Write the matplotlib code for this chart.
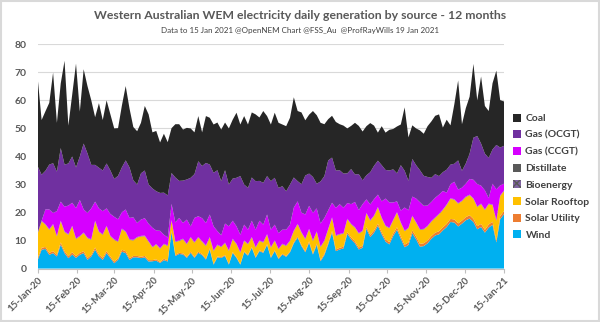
import matplotlib
matplotlib.use("Agg")
import matplotlib.pyplot as plt
import matplotlib.dates as mdates
from matplotlib.patches import Patch, Rectangle
import pandas as pd
import numpy as np

# ---- data (GWh per day, sampled every 3 days from 15-Jan-2020) ----
start_date = "2020-01-15"
n_points = 123

wind = [3.1, 6.7, 7.0, 4.9, 5.5, 4.3, 8.5, 5.5, 3.7, 5.0, 3.8, 4.9, 5.5, 3.1, 4.3, 6.7, 4.3, 3.1, 5.5, 3.7,
        1.9, 3.1, 6.0, 5.5, 3.1, 4.0, 4.0, 3.7, 4.0, 2.5, 2.6, 2.8, 2.0, 3.0, 2.5, 13.0, 4.5, 5.2, 5.0, 3.8,
        5.6, 3.8, 5.6, 4.8, 3.2, 6.8, 1.4, 4.0, 3.8, 4.5, 1.4, 5.6, 3.8, 1.4, 5.8, 4.6, 7.4, 3.8, 6.2, 5.6,
        8.4, 3.8, 6.2, 3.4, 5.0, 4.2, 5.8, 9.0, 11.0, 8.0, 5.8, 9.2, 5.0, 8.4, 2.6, 4.8, 8.6, 12.8, 6.2, 6.8,
        7.2, 12.4, 10.4, 9.0, 6.8, 7.4, 14.2, 11.2, 12.8, 15.2, 12.2, 9.6, 8.6, 11.6, 13.8, 10.6, 7.6, 8.4, 12.6, 10.4,
        7.8, 8.0, 9.0, 10.6, 11.8, 12.2, 13.6, 14.8, 16.6, 16.4, 15.0, 16.0, 17.2, 17.8, 16.6, 14.0, 14.8, 12.8, 14.6, 15.6,
        9.3, 17.6, 19.4]
solar_utility = [0.7, 0.7, 0.7, 0.7, 0.7, 0.6, 0.8, 0.7, 0.7, 0.8, 0.6, 0.7, 0.7, 0.7, 0.6, 0.8, 0.7, 0.7, 0.7, 0.6,
                 0.6, 0.5, 0.7, 0.7, 0.6, 0.5, 0.5, 0.5, 0.5, 0.5, 0.4, 0.5, 0.4, 0.5, 0.4, 0.6, 0.4, 0.4, 0.4, 0.4,
                 0.4, 0.4, 0.4, 0.4, 0.3, 0.4, 0.3, 0.3, 0.3, 0.3, 0.3, 0.3, 0.3, 0.2, 0.3, 0.3, 0.3, 0.3, 0.3, 0.3,
                 0.3, 0.3, 0.3, 0.3, 0.3, 0.3, 0.3, 0.4, 0.4, 0.4, 0.4, 0.5, 0.4, 0.5, 0.4, 0.5, 0.6, 0.6, 0.6, 0.6,
                 0.6, 0.6, 0.7, 0.7, 0.7, 0.7, 0.7, 0.8, 0.8, 0.8, 0.8, 0.8, 0.8, 0.9, 0.9, 0.9, 0.9, 0.9, 1.0, 1.0,
                 1.0, 1.0, 1.0, 1.0, 1.0, 1.1, 1.1, 1.1, 1.1, 1.1, 1.1, 1.1, 1.1, 1.2, 1.1, 1.1, 1.1, 1.0, 1.1, 1.1,
                 0.7, 1.1, 1.1]
solar_rooftop = [8.8, 9.4, 7.9, 8.2, 9.4, 6.5, 7.5, 6.8, 7.6, 9.2, 6.1, 5.8, 6.4, 7.0, 5.3, 9.3, 8.0, 8.2, 8.8, 7.1,
                 7.7, 5.9, 7.3, 6.8, 6.5, 5.5, 6.5, 7.2, 7.0, 6.5, 4.5, 5.2, 4.6, 5.1, 5.1, 3.4, 4.5, 4.2, 5.0, 4.4,
                 5.0, 5.0, 5.0, 4.3, 4.5, 3.8, 4.5, 4.0, 3.5, 4.2, 4.5, 4.5, 4.5, 4.0, 3.7, 3.7, 3.3, 3.3, 3.3, 3.3,
                 3.3, 3.3, 3.3, 3.1, 3.3, 3.5, 3.7, 3.9, 4.3, 4.3, 4.2, 4.2, 4.4, 4.1, 4.6, 4.5, 4.7, 4.6, 4.8, 4.7,
                 4.6, 4.5, 4.6, 4.8, 4.9, 5.2, 4.7, 5.0, 5.1, 5.7, 4.9, 4.7, 4.9, 4.6, 5.2, 4.7, 4.8, 5.0, 5.0, 4.9,
                 5.0, 4.9, 5.0, 5.1, 5.2, 6.0, 6.1, 6.7, 7.1, 7.0, 7.0, 6.9, 7.1, 7.1, 7.1, 6.8, 7.0, 7.0, 7.2, 5.9,
                 7.0, 7.1, 7.1]
bioenergy = [0.20, 0.20, 0.21, 0.20, 0.19, 0.20, 0.21, 0.20, 0.20, 0.19, 0.20, 0.21, 0.20, 0.20, 0.19, 0.20, 0.20, 0.21, 0.20, 0.20,
             0.19, 0.20, 0.20, 0.21, 0.20, 0.20, 0.19, 0.20, 0.20, 0.21, 0.20, 0.20, 0.19, 0.20, 0.20, 0.21, 0.20, 0.20, 0.19, 0.20,
             0.20, 0.21, 0.20, 0.20, 0.19, 0.20, 0.20, 0.21, 0.20, 0.20, 0.19, 0.20, 0.20, 0.21, 0.20, 0.20, 0.19, 0.20, 0.20, 0.21,
             0.20, 0.20, 0.19, 0.20, 0.20, 0.21, 0.20, 0.20, 0.19, 0.20, 0.20, 0.21, 0.20, 0.20, 0.19, 0.20, 0.20, 0.21, 0.20, 0.20,
             0.19, 0.20, 0.20, 0.21, 0.20, 0.20, 0.19, 0.20, 0.20, 0.21, 0.20, 0.20, 0.19, 0.20, 0.20, 0.21, 0.20, 0.20, 0.19, 0.20,
             0.20, 0.21, 0.20, 0.20, 0.19, 0.20, 0.20, 0.21, 0.20, 0.20, 0.19, 0.20, 0.20, 0.21, 0.20, 0.20, 0.19, 0.20, 0.20, 0.21,
             0.20, 0.20, 0.19]
distillate = [0.05, 0.05, 0.04, 0.05, 0.06, 0.05, 0.04, 0.05, 0.05, 0.06, 0.05, 0.04, 0.05, 0.05, 0.06, 0.05, 0.05, 0.04, 0.05, 0.05,
              0.06, 0.05, 0.05, 0.04, 0.05, 0.05, 0.06, 0.05, 0.05, 0.04, 0.05, 0.05, 0.06, 0.05, 0.05, 0.04, 0.05, 0.05, 0.06, 0.05,
              0.05, 0.04, 0.05, 0.05, 0.06, 0.05, 0.05, 0.04, 0.05, 0.05, 0.06, 0.05, 0.05, 0.04, 0.05, 0.05, 0.06, 0.05, 0.05, 0.04,
              0.05, 0.05, 0.06, 0.05, 0.05, 0.04, 0.05, 0.05, 0.06, 0.05, 0.05, 0.04, 0.05, 0.05, 0.06, 0.05, 0.05, 0.04, 0.05, 0.05,
              0.06, 0.05, 0.05, 0.04, 0.05, 0.05, 0.06, 0.05, 0.05, 0.04, 0.05, 0.05, 0.06, 0.05, 0.05, 0.04, 0.05, 0.05, 0.06, 0.05,
              0.05, 0.04, 0.05, 0.05, 0.06, 0.05, 0.05, 0.04, 0.05, 0.05, 0.06, 0.05, 0.05, 0.04, 0.05, 0.05, 0.06, 0.05, 0.05, 0.04,
              0.05, 0.05, 0.06]
gas_ccgt = [0.0, 0.0, 5.2, 7.0, 4.0, 8.8, 6.8, 8.8, 10.2, 8.2, 10.8, 12.8, 8.2, 8.8, 11.0, 6.8, 8.2, 8.2, 6.2, 7.8,
            8.0, 7.8, 5.8, 7.8, 7.6, 8.0, 5.0, 5.8, 6.2, 6.2, 6.8, 4.8, 6.2, 3.2, 2.8, 5.8, 6.8, 8.0, 5.6, 8.6,
            3.8, 8.6, 7.4, 8.2, 8.0, 8.0, 8.6, 4.8, 4.0, 6.8, 8.6, 6.4, 6.2, 6.2, 5.6, 5.0, 5.8, 6.2, 7.0, 6.2,
            7.0, 6.2, 5.6, 5.6, 5.0, 5.6, 5.6, 8.2, 8.0, 7.0, 8.6, 8.2, 9.8, 8.2, 8.2, 8.0, 6.6, 5.2, 9.8, 10.6,
            9.0, 5.6, 7.0, 9.0, 8.2, 9.4, 4.8, 5.6, 5.8, 4.4, 5.8, 9.6, 9.0, 6.2, 3.8, 4.2, 8.2, 6.2, 6.8, 8.4,
            9.6, 8.2, 7.2, 6.8, 7.0, 6.8, 6.6, 4.2, 5.0, 6.2, 4.8, 4.6, 4.6, 5.6, 6.6, 8.0, 6.4, 6.8, 2.0, 7.4,
            11.0, 3.6, 2.4]
gas_ocgt = [23.5, 16.4, 13.8, 16.0, 17.7, 14.1, 19.1, 15.0, 15.0, 16.5, 14.5, 15.5, 23.5, 21.2, 15.5, 13.1, 14.5, 14.5, 16.0, 15.5,
            13.5, 15.5, 16.0, 17.5, 18.0, 13.2, 13.7, 16.5, 17.0, 14.0, 14.0, 14.0, 13.5, 15.0, 15.0, 11.0, 16.0, 13.2, 15.1, 14.3,
            17.3, 15.6, 19.6, 18.6, 21.4, 17.8, 19.1, 21.7, 19.3, 19.0, 14.9, 15.0, 17.3, 20.9, 14.3, 14.9, 15.4, 17.3, 14.2, 14.9,
            13.7, 17.3, 16.7, 16.1, 15.5, 13.7, 14.3, 10.7, 7.2, 10.1, 13.9, 11.5, 12.8, 8.8, 15.0, 14.9, 17.8, 16.1, 13.3, 12.1,
            12.2, 10.6, 12.5, 9.8, 12.8, 8.5, 8.6, 11.5, 11.9, 12.1, 12.9, 10.2, 11.4, 11.8, 10.0, 16.2, 13.1, 10.5, 13.4, 11.9,
            11.4, 10.7, 10.2, 8.6, 8.4, 6.6, 6.7, 8.2, 7.0, 6.4, 10.4, 6.0, 7.2, 9.0, 15.0, 17.1, 15.0, 13.1, 14.3, 12.2,
            15.8, 13.5, 13.5]
coal = [31.1, 19.5, 21.2, 22.0, 32.3, 17.4, 23.0, 37.0, 13.5, 22.0, 37.0, 16.0, 26.5, 24.0, 23.0, 17.0, 23.0, 18.0, 22.5, 20.0,
        18.0, 17.0, 22.0, 26.5, 21.0, 19.0, 19.0, 18.0, 23.0, 25.0, 20.0, 21.5, 18.0, 21.0, 19.0, 16.0, 19.0, 20.2, 18.2, 18.4,
        17.6, 14.9, 16.1, 12.0, 16.7, 16.7, 17.2, 17.0, 18.4, 17.0, 20.0, 21.0, 23.2, 18.4, 24.4, 22.6, 23.2, 23.8, 22.6, 25.6,
        21.4, 20.2, 23.2, 23.2, 22.0, 23.2, 23.8, 28.6, 25.0, 25.6, 19.7, 21.0, 23.5, 24.4, 20.9, 18.5, 14.7, 14.9, 17.3, 16.4,
        17.1, 16.0, 15.4, 18.4, 17.2, 17.4, 17.5, 17.5, 14.3, 10.0, 13.9, 13.3, 14.5, 14.4, 16.7, 14.5, 22.6, 15.5, 12.0, 13.1,
        14.2, 15.0, 18.1, 20.1, 20.8, 22.0, 15.9, 17.8, 14.0, 21.2, 28.5, 16.6, 19.7, 20.3, 26.3, 12.7, 23.9, 17.0, 16.7, 23.6,
        26.5, 16.9, 15.8]

series_labels = ["Wind", "Solar Utility", "Solar Rooftop", "Bioenergy", "Distillate",
                 "Gas (CCGT)", "Gas (OCGT)", "Coal"]
series_colors = ["#00b0f0", "#ed7d31", "#ffc000", "#8064a2", "#595959",
                 "#d600ff", "#7030a0", "#262626"]

x_ticks = pd.date_range("2020-01-01", "2021-01-15", freq="MS") + pd.Timedelta(days=14)
x_tick_labels = [d.strftime("%d-%b-%y") for d in x_ticks]

title = "Western Australian WEM electricity daily generation by source - 12 months"
subtitle = "Data to 15 Jan 2021 @OpenNEM Chart @FSS_Au  @ProfRayWills 19 Jan 2021"

# ---- plot ----
dates = pd.date_range(start_date, periods=n_points, freq="3D")
plt.rcParams["font.family"] = ["Lato", "DejaVu Sans"]

fig = plt.figure(figsize=(6.0, 3.22), dpi=100)
fig.patch.set_facecolor("white")
ax = fig.add_axes([0.063, 0.166, 0.777, 0.697])

stack = [wind, solar_utility, solar_rooftop, bioenergy, distillate, gas_ccgt, gas_ocgt, coal]
ax.stackplot(dates, *stack, colors=series_colors, linewidth=0, antialiased=True)

ax.set_ylim(0, 80)
ax.set_xlim(pd.Timestamp("2020-01-15"), pd.Timestamp("2021-01-15"))
ax.set_yticks(range(0, 81, 10))
ax.yaxis.grid(True, color="#d9d9d9", linewidth=0.8)
ax.set_axisbelow(True)
for side in ["top", "right", "left"]:
    ax.spines[side].set_visible(False)
ax.spines["bottom"].set_color("#bfbfbf")
ax.spines["bottom"].set_linewidth(0.8)
ax.tick_params(axis="y", length=0, labelsize=7.5, labelcolor="#595959", pad=8)
ax.set_xticks(x_ticks)
ax.set_xticklabels(x_tick_labels, rotation=45, ha="right", rotation_mode="anchor")
ax.tick_params(axis="x", length=3, color="#bfbfbf", labelsize=7, labelcolor="#595959", pad=2)
for lab in ax.get_yticklabels() + ax.get_xticklabels():
    lab.set_fontweight("bold")

fig.text(0.5, 0.953, title, ha="center", va="center", fontsize=8.8, fontweight="bold", color="#595959")
fig.text(0.5, 0.905, subtitle, ha="center", va="center", fontsize=5.8, color="#404040")

handles = [Patch(facecolor=c, edgecolor="none") for c in series_colors]
handles = handles[::-1]
labels = series_labels[::-1]
handles[4] = Patch(facecolor="#8064a2", edgecolor="#595959", hatch="xxxx", linewidth=0)
leg = fig.legend(handles, labels, loc="upper left", bbox_to_anchor=(0.848, 0.66),
                 frameon=False, fontsize=7.5, handlelength=0.8, handleheight=0.8,
                 handletextpad=0.4, labelspacing=0.68, borderaxespad=0)
for t in leg.get_texts():
    t.set_color("#404040")
    t.set_fontweight("bold")

fig.add_artist(Rectangle((0.002, 0.003), 0.996, 0.994, transform=fig.transFigure,
                         fill=False, edgecolor="#d9d9d9", linewidth=1.5))

fig.savefig("out.png", dpi=100)
